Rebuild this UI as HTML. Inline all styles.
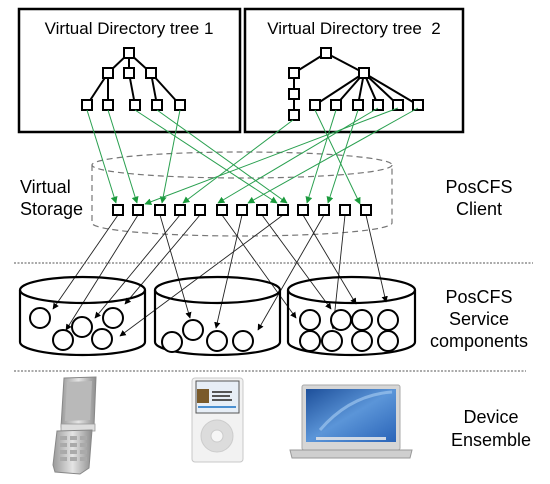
<!DOCTYPE html>
<html><head><meta charset="utf-8"><style>
html,body{margin:0;padding:0;background:#fff;}
svg{display:block;font-family:"Liberation Sans",Arial,sans-serif;}
</style></head><body>
<svg width="550" height="484" viewBox="0 0 550 484" xmlns="http://www.w3.org/2000/svg">
<defs>
<marker id="g" viewBox="0 0 10 10" refX="9" refY="5" markerWidth="7" markerHeight="7" orient="auto"><path d="M0,0 L10,5 L0,10 z" fill="#1a9a3c"/></marker>
<marker id="k" viewBox="0 0 10 10" refX="9" refY="5" markerWidth="7" markerHeight="7" orient="auto"><path d="M0,0 L10,5 L0,10 z" fill="#000"/></marker>
<linearGradient id="scr" x1="0" y1="0" x2="1" y2="1"><stop offset="0" stop-color="#1d4f9a"/><stop offset="0.5" stop-color="#5b95d8"/><stop offset="1" stop-color="#2a64b8"/></linearGradient>
<linearGradient id="ph" x1="0" y1="0" x2="1" y2="0"><stop offset="0" stop-color="#9a9a9a"/><stop offset="0.5" stop-color="#e4e4e4"/><stop offset="1" stop-color="#8e8e8e"/></linearGradient>
</defs>

<!-- boxes -->
<rect x="19" y="9" width="221" height="123" fill="none" stroke="#000" stroke-width="2.5"/>
<rect x="245" y="9" width="218" height="123" fill="none" stroke="#000" stroke-width="2.5"/>
<text x="129" y="34" font-size="17" text-anchor="middle">Virtual Directory tree 1</text>
<text x="354" y="34" font-size="17" text-anchor="middle">Virtual Directory tree&#160; 2</text>

<!-- tree1 -->
<g stroke="#000" stroke-width="2" fill="none">
<line x1="129" y1="53" x2="108" y2="73"/><line x1="129" y1="53" x2="129" y2="73"/><line x1="129" y1="53" x2="151" y2="73"/>
<line x1="108" y1="73" x2="87" y2="105"/><line x1="108" y1="73" x2="108" y2="105"/>
<line x1="129" y1="73" x2="135" y2="105"/>
<line x1="151" y1="73" x2="157" y2="105"/><line x1="151" y1="73" x2="180" y2="105"/>
<line x1="326" y1="53" x2="294" y2="73"/><line x1="326" y1="53" x2="364" y2="73"/>
<line x1="294" y1="73" x2="294" y2="115"/>
<line x1="364" y1="73" x2="315" y2="105"/><line x1="364" y1="73" x2="336" y2="105"/><line x1="364" y1="73" x2="358" y2="105"/><line x1="364" y1="73" x2="378" y2="105"/><line x1="364" y1="73" x2="398" y2="105"/><line x1="364" y1="73" x2="418" y2="105"/>
</g>
<g fill="#fff" stroke="#000" stroke-width="2">
<rect x="124" y="48" width="10" height="10"/>
<rect x="103" y="68" width="10" height="10"/><rect x="124" y="68" width="10" height="10"/><rect x="146" y="68" width="10" height="10"/>
<rect x="82" y="100" width="10" height="10"/><rect x="103" y="100" width="10" height="10"/><rect x="130" y="100" width="10" height="10"/><rect x="152" y="100" width="10" height="10"/><rect x="175" y="100" width="10" height="10"/>
<rect x="321" y="48" width="10" height="10"/>
<rect x="289" y="68" width="10" height="10"/><rect x="359" y="68" width="10" height="10"/>
<rect x="289" y="89" width="10" height="10"/><rect x="289" y="110" width="10" height="10"/>
<rect x="310" y="100" width="10" height="10"/><rect x="331" y="100" width="10" height="10"/><rect x="353" y="100" width="10" height="10"/><rect x="373" y="100" width="10" height="10"/><rect x="393" y="100" width="10" height="10"/><rect x="413" y="100" width="10" height="10"/>
</g>

<!-- virtual storage cylinder -->
<g fill="none" stroke="#777" stroke-width="1.2" stroke-dasharray="6,4">
<ellipse cx="242" cy="165" rx="150" ry="13"/>
<path d="M92,165 V223 A150,13 0 0 0 392,223 V165"/>
</g>
<text x="20" y="193" font-size="18">Virtual</text>
<text x="20" y="215" font-size="18">Storage</text>
<text x="479" y="193" font-size="18" text-anchor="middle">PosCFS</text>
<text x="479" y="215" font-size="18" text-anchor="middle">Client</text>

<!-- green arrows -->
<g stroke="#2aa050" stroke-width="1" fill="none" marker-end="url(#g)">
<line x1="87" y1="110" x2="116" y2="203"/>
<line x1="108" y1="110" x2="137" y2="203"/>
<line x1="180" y1="110" x2="162" y2="203"/>
<line x1="135" y1="110" x2="277" y2="203"/>
<line x1="157" y1="110" x2="287" y2="203"/>
<line x1="293" y1="120" x2="183" y2="203"/>
<line x1="398" y1="108" x2="145" y2="204"/>
<line x1="418" y1="108" x2="248" y2="203"/>
<line x1="378" y1="108" x2="218" y2="203"/>
<line x1="315" y1="110" x2="360" y2="204"/>
<line x1="336" y1="110" x2="307" y2="203"/>
<line x1="358" y1="110" x2="328" y2="203"/>
</g>

<!-- black arrows -->
<g stroke="#222" stroke-width="0.9" fill="none" marker-end="url(#k)">
<line x1="118" y1="215" x2="53" y2="309"/>
<line x1="138" y1="215" x2="66" y2="330"/>
<line x1="160" y1="215" x2="190" y2="318"/>
<line x1="180" y1="215" x2="95" y2="318"/>
<line x1="200" y1="215" x2="125" y2="304"/>
<line x1="222" y1="215" x2="296" y2="318"/>
<line x1="242" y1="215" x2="216" y2="328"/>
<line x1="262" y1="215" x2="331" y2="309"/>
<line x1="283" y1="215" x2="120" y2="336"/>
<line x1="303" y1="215" x2="356" y2="304"/>
<line x1="324" y1="215" x2="258" y2="330"/>
<line x1="345" y1="215" x2="333" y2="329"/>
<line x1="366" y1="215" x2="386" y2="302"/>
</g>

<!-- storage nodes -->
<g fill="#fff" stroke="#000" stroke-width="2">
<rect x="113" y="205" width="10" height="10"/><rect x="133" y="205" width="10" height="10"/><rect x="155" y="205" width="10" height="10"/><rect x="175" y="205" width="10" height="10"/><rect x="195" y="205" width="10" height="10"/><rect x="217" y="205" width="10" height="10"/><rect x="237" y="205" width="10" height="10"/><rect x="257" y="205" width="10" height="10"/><rect x="278" y="205" width="10" height="10"/><rect x="298" y="205" width="10" height="10"/><rect x="319" y="205" width="10" height="10"/><rect x="340" y="205" width="10" height="10"/><rect x="361" y="205" width="10" height="10"/>
</g>

<!-- dotted separators -->
<line x1="14" y1="263" x2="533" y2="263" stroke="#555" stroke-width="1" stroke-dasharray="2,1.5"/>
<line x1="14" y1="371" x2="526" y2="371" stroke="#555" stroke-width="1" stroke-dasharray="2,1.5"/>

<!-- service cylinders -->
<g fill="none" stroke="#000" stroke-width="2.2">
<ellipse cx="82.5" cy="290" rx="62.5" ry="13"/>
<path d="M20,290 V342 A62.5,13 0 0 0 145,342 V290"/>
<ellipse cx="217.5" cy="290" rx="62.5" ry="13"/>
<path d="M155,290 V342 A62.5,13 0 0 0 280,342 V290"/>
<ellipse cx="351.5" cy="290" rx="63.5" ry="13"/>
<path d="M288,290 V342 A63.5,13 0 0 0 415,342 V290"/>
</g>
<g fill="#fff" stroke="#000" stroke-width="2">
<circle cx="40" cy="318" r="10"/><circle cx="63" cy="340" r="10"/><circle cx="82" cy="327" r="10"/><circle cx="113" cy="318" r="10"/><circle cx="102" cy="339" r="10"/>
<circle cx="172" cy="342" r="10"/><circle cx="193" cy="330" r="10"/><circle cx="217" cy="341" r="10"/><circle cx="243" cy="341" r="10"/>
<circle cx="310" cy="320" r="10"/><circle cx="341" cy="320" r="10"/><circle cx="362" cy="320" r="10"/><circle cx="388" cy="320" r="10"/>
<circle cx="310" cy="341" r="10"/><circle cx="332" cy="341" r="10"/><circle cx="362" cy="341" r="10"/><circle cx="388" cy="341" r="10"/>
</g>
<text x="479" y="303" font-size="18" text-anchor="middle">PosCFS</text>
<text x="479" y="325" font-size="18" text-anchor="middle">Service</text>
<text x="479" y="347" font-size="18" text-anchor="middle">components</text>

<!-- devices -->
<!-- phone -->
<g>
<path d="M64,378 L96,377 L94,426 L61,427 Z" fill="url(#ph)" stroke="#888" stroke-width="1"/>
<path d="M67,382 L92,381 L90,420 L65,421 Z" fill="#b9b9b9"/>
<rect x="61" y="424" width="34" height="7" fill="#ddd" stroke="#999" stroke-width="0.8"/>
<path d="M57,431 L92,430 L89,468 L80,474 L55,472 L53,465 Z" fill="url(#ph)" stroke="#888" stroke-width="1"/>
<g fill="#aaa"><rect x="60" y="436" width="7" height="4"/><rect x="70" y="436" width="7" height="4"/><rect x="80" y="436" width="7" height="4"/><rect x="60" y="443" width="7" height="4"/><rect x="70" y="443" width="7" height="4"/><rect x="80" y="443" width="7" height="4"/><rect x="60" y="450" width="7" height="4"/><rect x="70" y="450" width="7" height="4"/><rect x="80" y="450" width="7" height="4"/><rect x="60" y="457" width="7" height="4"/><rect x="70" y="457" width="7" height="4"/><rect x="80" y="457" width="7" height="4"/></g>
</g>
<!-- ipod -->
<rect x="192" y="378" width="51" height="84" rx="3" fill="#f2f2f2" stroke="#c8c8c8" stroke-width="1"/>
<rect x="196" y="381" width="43" height="32" fill="#e7eef6" stroke="#555" stroke-width="1"/>
<rect x="197" y="389" width="12" height="14" fill="#7a5a2a"/>
<g fill="#555"><rect x="212" y="391" width="20" height="2"/><rect x="212" y="395" width="18" height="2"/><rect x="212" y="399" width="20" height="2"/></g>
<rect x="198" y="406" width="38" height="2" fill="#4a8fd0"/>
<circle cx="217" cy="436" r="16" fill="#dcdcdc" stroke="#ccc"/>
<circle cx="217" cy="436" r="6" fill="#f6f6f6" stroke="#ccc"/>
<!-- laptop -->
<rect x="302" y="385" width="98" height="65" rx="2" fill="#d6d6d6" stroke="#aaa" stroke-width="1"/>
<rect x="306" y="389" width="90" height="53" fill="url(#scr)"/>
<path d="M320,430 Q350,395 392,392" stroke="#9cc4ee" stroke-width="3" fill="none" opacity="0.7"/>
<rect x="316" y="437" width="70" height="3" fill="#cfd8e4"/>
<path d="M290,450 L412,450 L410,458 L292,458 Z" fill="#cfcfcf" stroke="#999" stroke-width="1"/>
<text x="491" y="423" font-size="18" text-anchor="middle">Device</text>
<text x="491" y="446" font-size="18" text-anchor="middle">Ensemble</text>
</svg>
</body></html>
